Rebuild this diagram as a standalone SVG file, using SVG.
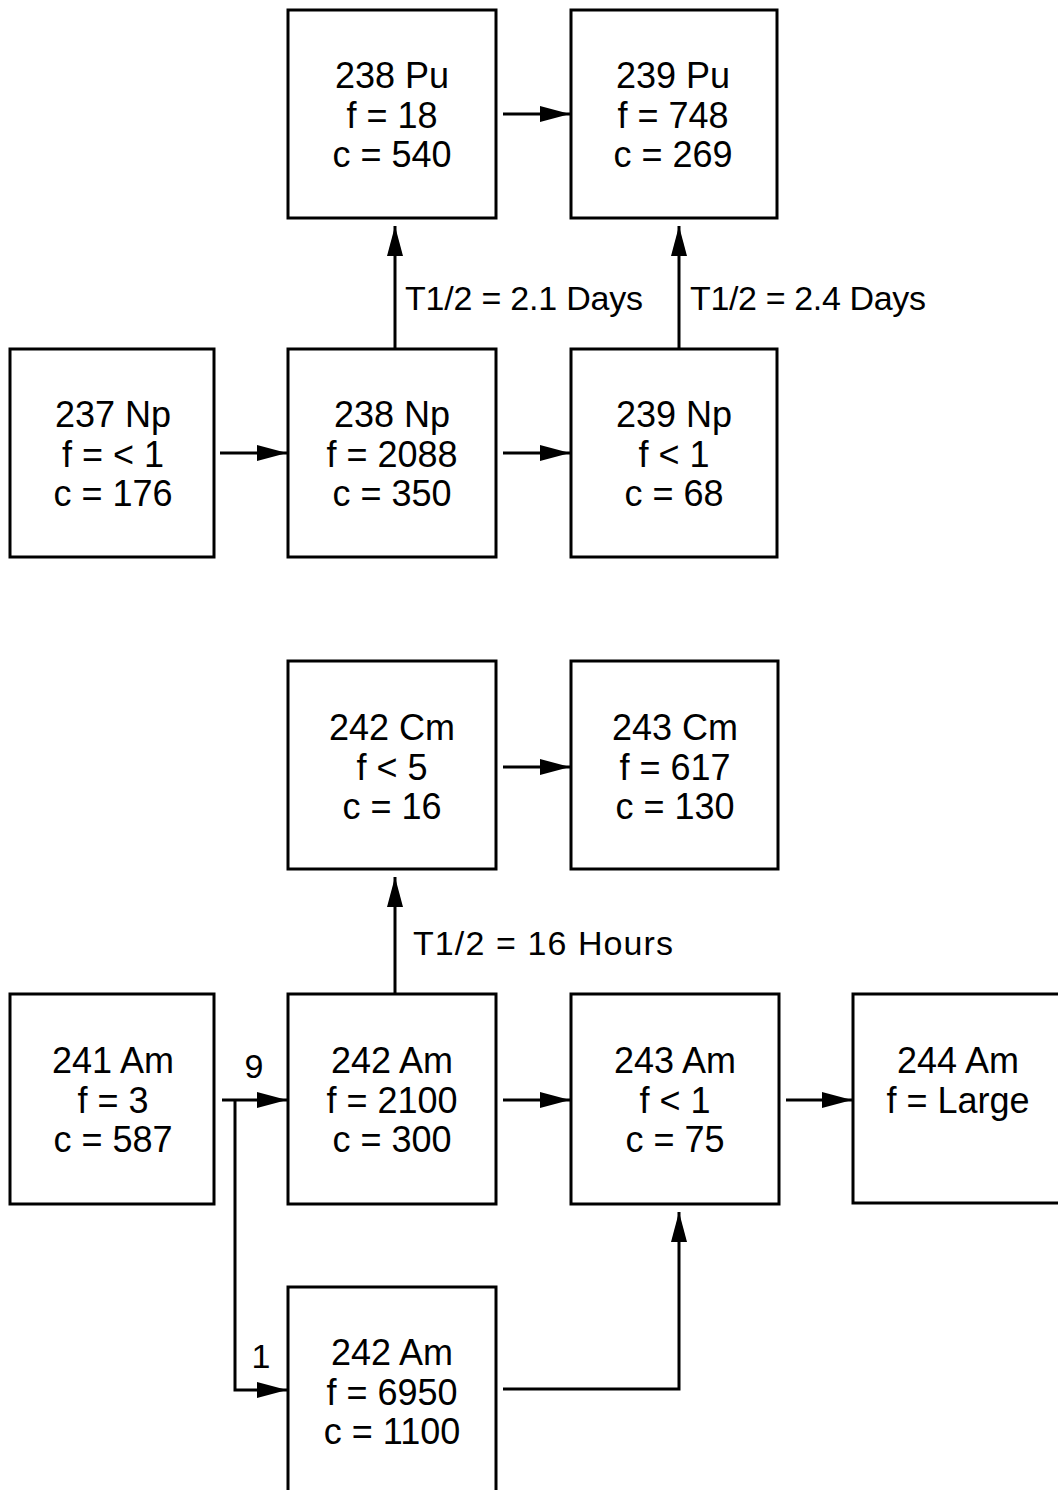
<svg xmlns="http://www.w3.org/2000/svg" width="1058" height="1490" viewBox="0 0 1058 1490">
<style>
.box{fill:#fff;stroke:#000;stroke-width:3}
.t{font-family:"Liberation Sans",Arial,sans-serif;font-size:36px;fill:#000;text-anchor:middle}
.lbl{font-family:"Liberation Sans",Arial,sans-serif;font-size:34px;fill:#000}
.c{fill:none;stroke:#000;stroke-width:3}
</style>
<defs>
<marker id="ah" viewBox="0 0 30 16" refX="30" refY="8" markerWidth="30" markerHeight="16" markerUnits="userSpaceOnUse" orient="auto">
<path d="M0,0 L30,8 L0,16 z" fill="#000"/>
</marker>
</defs>
<rect width="1058" height="1490" fill="#fff"/>

<g id="pu238"><rect class="box" x="288" y="10" width="208" height="208"/>
<text class="t" x="392" y="88">238 Pu</text><text class="t" x="392" y="128">f = 18</text><text class="t" x="392" y="167">c = 540</text></g>
<g id="pu239"><rect class="box" x="571" y="10" width="206" height="208"/>
<text class="t" x="673" y="88">239 Pu</text><text class="t" x="673" y="128">f = 748</text><text class="t" x="673" y="167">c = 269</text></g>
<g id="np237"><rect class="box" x="10" y="349" width="204" height="208"/>
<text class="t" x="113" y="427">237 Np</text><text class="t" x="113" y="467">f = &lt; 1</text><text class="t" x="113" y="506">c = 176</text></g>
<g id="np238"><rect class="box" x="288" y="349" width="208" height="208"/>
<text class="t" x="392" y="427">238 Np</text><text class="t" x="392" y="467">f = 2088</text><text class="t" x="392" y="506">c = 350</text></g>
<g id="np239"><rect class="box" x="571" y="349" width="206" height="208"/>
<text class="t" x="674" y="427">239 Np</text><text class="t" x="674" y="467">f &lt; 1</text><text class="t" x="674" y="506">c = 68</text></g>

<g id="cm242"><rect class="box" x="288" y="661" width="208" height="208"/>
<text class="t" x="392" y="740">242 Cm</text><text class="t" x="392" y="780">f &lt; 5</text><text class="t" x="392" y="819">c = 16</text></g>
<g id="cm243"><rect class="box" x="571" y="661" width="207" height="208"/>
<text class="t" x="675" y="740">243 Cm</text><text class="t" x="675" y="780">f = 617</text><text class="t" x="675" y="819">c = 130</text></g>
<g id="am241"><rect class="box" x="10" y="994" width="204" height="210"/>
<text class="t" x="113" y="1073">241 Am</text><text class="t" x="113" y="1113">f = 3</text><text class="t" x="113" y="1152">c = 587</text></g>
<g id="am242"><rect class="box" x="288" y="994" width="208" height="210"/>
<text class="t" x="392" y="1073">242 Am</text><text class="t" x="392" y="1113">f = 2100</text><text class="t" x="392" y="1152">c = 300</text></g>
<g id="am243"><rect class="box" x="571" y="994" width="208" height="210"/>
<text class="t" x="675" y="1073">243 Am</text><text class="t" x="675" y="1113">f &lt; 1</text><text class="t" x="675" y="1152">c = 75</text></g>
<g id="am244"><rect class="box" x="853" y="994" width="215" height="209"/>
<text class="t" x="958" y="1073">244 Am</text><text class="t" x="958" y="1113">f = Large</text></g>
<g id="am242b"><rect class="box" x="288" y="1287" width="208" height="215"/>
<text class="t" x="392" y="1365">242 Am</text><text class="t" x="392" y="1405">f = 6950</text><text class="t" x="392" y="1444">c = 1100</text></g>

<g id="connectors">
<line class="c" x1="503" y1="114" x2="570" y2="114" marker-end="url(#ah)"/>
<line class="c" x1="220" y1="453" x2="287" y2="453" marker-end="url(#ah)"/>
<line class="c" x1="503" y1="453" x2="570" y2="453" marker-end="url(#ah)"/>
<line class="c" x1="395" y1="349" x2="395" y2="226" marker-end="url(#ah)"/>
<line class="c" x1="679" y1="349" x2="679" y2="226" marker-end="url(#ah)"/>
<text class="lbl" x="405" y="310" textLength="238" lengthAdjust="spacing">T1/2 = 2.1 Days</text>
<text class="lbl" x="690" y="310" textLength="236" lengthAdjust="spacing">T1/2 = 2.4 Days</text>

<line class="c" x1="503" y1="767" x2="570" y2="767" marker-end="url(#ah)"/>
<line class="c" x1="395" y1="994" x2="395" y2="877" marker-end="url(#ah)"/>
<text class="lbl" x="413" y="955" textLength="260" lengthAdjust="spacing">T1/2 = 16 Hours</text>

<line class="c" x1="222" y1="1100" x2="287" y2="1100" marker-end="url(#ah)"/>
<polyline class="c" points="235,1100 235,1390 287,1390" marker-end="url(#ah)"/>
<text class="lbl" x="254" y="1078" text-anchor="middle">9</text>
<text class="lbl" x="261" y="1368" text-anchor="middle">1</text>
<line class="c" x1="503" y1="1100" x2="570" y2="1100" marker-end="url(#ah)"/>
<line class="c" x1="786" y1="1100" x2="852" y2="1100" marker-end="url(#ah)"/>
<polyline class="c" points="503,1389 679,1389 679,1212" marker-end="url(#ah)"/>
</g>
</svg>
